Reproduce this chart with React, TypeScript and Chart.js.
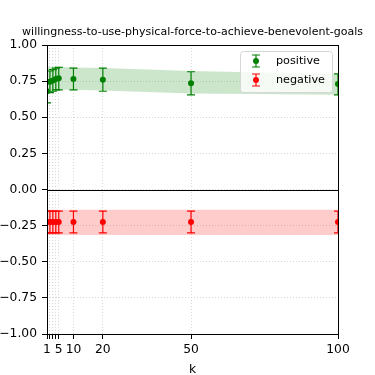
import React, { useEffect, useRef } from "react";
import { Chart, registerables } from "chart.js";

Chart.register(...registerables);

const titleText = "willingness-to-use-physical-force-to-achieve-benevolent-goals";
const kValues = [1, 2, 3, 4, 5, 10, 20, 50, 100];
const xTickValues = [1, 2, 3, 4, 5, 10, 20, 50, 100];
const xTickLabels = ["1", "", "", "", "5", "10", "20", "50", "100"];

const posMean = [0.68, 0.745, 0.755, 0.765, 0.77, 0.765, 0.76, 0.735, 0.73];
const posErrLow = [0.6, 0.67, 0.68, 0.69, 0.69, 0.69, 0.68, 0.655, 0.655];
const posErrHigh = [0.76, 0.82, 0.83, 0.84, 0.845, 0.84, 0.84, 0.815, 0.8];
const posBandLow = [0.68, 0.685, 0.69, 0.69, 0.69, 0.69, 0.685, 0.665, 0.655];
const posBandHigh = [0.85, 0.85, 0.85, 0.85, 0.85, 0.845, 0.84, 0.82, 0.8];

const negMean = [-0.225, -0.225, -0.225, -0.225, -0.225, -0.225, -0.225, -0.225, -0.225];
const negErrLow = [-0.3, -0.3, -0.3, -0.3, -0.3, -0.3, -0.3, -0.3, -0.3];
const negErrHigh = [-0.15, -0.15, -0.15, -0.15, -0.15, -0.15, -0.15, -0.15, -0.15];
const negBandLow = [-0.315, -0.315, -0.315, -0.315, -0.315, -0.315, -0.315, -0.315, -0.315];
const negBandHigh = [-0.14, -0.14, -0.14, -0.14, -0.14, -0.14, -0.14, -0.14, -0.14];

const seriesNames = ["positive", "negative"];
const GREEN = "rgb(0,128,0)";
const RED = "rgb(255,0,0)";
const FONT = "DejaVu Sans";
const TICK_FS = 12.3;
const LEGEND_FS = 11.2;
const TITLE_FS = 11;

const pts = (ys: number[]) => kValues.map((x, i) => ({ x, y: ys[i] }));

export default function App() {
  const ref = useRef<HTMLCanvasElement>(null);
  useEffect(() => {
    document.body.style.margin = "0";
    const errorBars = {
      id: "errorBars",
      afterDatasetsDraw(chart: any) {
        const { ctx, chartArea, scales } = chart;
        const xs = scales.x, ys = scales.y;
        ctx.save();
        ctx.beginPath();
        ctx.rect(chartArea.left, chartArea.top, chartArea.right - chartArea.left, chartArea.bottom - chartArea.top);
        ctx.clip();
        const draw = (lo: number[], hi: number[], color: string) => {
          ctx.strokeStyle = color;
          ctx.lineWidth = 1.2;
          kValues.forEach((k, i) => {
            const px = xs.getPixelForValue(k);
            const y1 = ys.getPixelForValue(lo[i]);
            const y2 = ys.getPixelForValue(hi[i]);
            ctx.beginPath();
            ctx.moveTo(px, y1); ctx.lineTo(px, y2);
            ctx.moveTo(px - 4, y1); ctx.lineTo(px + 4, y1);
            ctx.moveTo(px - 4, y2); ctx.lineTo(px + 4, y2);
            ctx.stroke();
          });
        };
        draw(posErrLow, posErrHigh, GREEN);
        draw(negErrLow, negErrHigh, RED);
        ctx.restore();
      },
    };
    const frame = {
      id: "frame",
      beforeDatasetsDraw(chart: any) {
        const { ctx, chartArea, scales } = chart;
        const y0 = scales.y.getPixelForValue(0);
        ctx.save();
        ctx.strokeStyle = "#000";
        ctx.lineWidth = 1;
        ctx.beginPath();
        ctx.moveTo(chartArea.left, Math.round(y0) + 0.5);
        ctx.lineTo(chartArea.right, Math.round(y0) + 0.5);
        ctx.stroke();
        ctx.restore();
      },
      afterDraw(chart: any) {
        const { ctx, chartArea } = chart;
        ctx.save();
        ctx.strokeStyle = "#000";
        ctx.lineWidth = 1;
        ctx.strokeRect(Math.round(chartArea.left) + 0.5, Math.round(chartArea.top) + 0.5,
          Math.round(chartArea.right - chartArea.left), Math.round(chartArea.bottom - chartArea.top));
        const cxMid = (chartArea.left + chartArea.right) / 2;
        // title
        ctx.fillStyle = "#000";
        ctx.font = `${TITLE_FS}px "${FONT}"`;
        ctx.textAlign = "center";
        ctx.textBaseline = "middle";
        ctx.fillText(titleText, cxMid, 32);
        // x label
        ctx.font = `${TICK_FS}px "${FONT}"`;
        ctx.textBaseline = "alphabetic";
        ctx.fillText("k", cxMid, 373);
        // legend
        const lx = 240, ly = 51, lw = 92, lh = 41;
        ctx.beginPath();
        ctx.roundRect(lx + 0.5, ly + 0.5, lw, lh, 3);
        ctx.fillStyle = "rgba(255,255,255,0.8)";
        ctx.fill();
        ctx.strokeStyle = "#d6d6d6";
        ctx.stroke();
        const colors = [GREEN, RED];
        ctx.textBaseline = "middle";
        seriesNames.forEach((name, i) => {
          const cy = 61 + i * 19;
          const cx = 256;
          ctx.strokeStyle = colors[i];
          ctx.lineWidth = 1.2;
          ctx.beginPath();
          ctx.moveTo(cx, cy - 6); ctx.lineTo(cx, cy + 6);
          ctx.moveTo(cx - 4, cy - 6); ctx.lineTo(cx + 4, cy - 6);
          ctx.moveTo(cx - 4, cy + 6); ctx.lineTo(cx + 4, cy + 6);
          ctx.stroke();
          ctx.fillStyle = colors[i];
          ctx.beginPath();
          ctx.arc(cx, cy, 3, 0, Math.PI * 2);
          ctx.fill();
          ctx.fillStyle = "#000";
          ctx.textAlign = "left";
          ctx.font = `${LEGEND_FS}px "${FONT}"`;
          ctx.fillText(name, 276, cy);
        });
        ctx.restore();
      },
    };
    const bandDs = (ys: number[], fill: any, color: string) => ({
      type: "line" as const,
      data: pts(ys),
      borderWidth: 0,
      pointRadius: 0,
      fill,
      backgroundColor: color,
      borderColor: "transparent",
      tension: 0,
      order: 2,
    });
    const gridOpts = { color: "#cccccc", lineWidth: 0.8, tickLength: 5, tickColor: "#000", tickWidth: 1, tickBorderDash: [] } as any;
    const chart = new Chart(ref.current!, {
      type: "scatter",
      data: {
        datasets: [
          { label: seriesNames[0], data: pts(posMean), backgroundColor: GREEN, borderColor: GREEN, pointRadius: 3, borderWidth: 0, order: 0, clip: 0 } as any,
          { label: seriesNames[1], data: pts(negMean), backgroundColor: RED, borderColor: RED, pointRadius: 3, borderWidth: 0, order: 0, clip: 0 } as any,
          bandDs(posBandHigh, "+1", "rgba(0,128,0,0.2)"),
          bandDs(posBandLow, false, "rgba(0,128,0,0.2)"),
          bandDs(negBandHigh, "+1", "rgba(255,0,0,0.2)"),
          bandDs(negBandLow, false, "rgba(255,0,0,0.2)"),
        ],
      },
      options: {
        animation: false,
        responsive: false,
        layout: { padding: { top: 45, right: 37, left: 0, bottom: 0 } },
        plugins: { legend: { display: false }, tooltip: { enabled: false }, title: { display: false } },
        scales: {
          x: {
            type: "linear",
            min: 1,
            max: 100,
            afterBuildTicks: (s: any) => { s.ticks = xTickValues.map((v) => ({ value: v })); },
            afterFit: (s: any) => { s.height = 41; },
            ticks: {
              autoSkip: false,
              maxRotation: 0,
              padding: 3,
              color: "#000",
              font: { family: FONT, size: TICK_FS },
              callback: (v: any) => { const i = xTickValues.indexOf(Number(v)); return i >= 0 ? xTickLabels[i] : ""; },
            },
            grid: gridOpts,
            border: { display: false, dash: [1, 2] },
          },
          y: {
            min: -1,
            max: 1,
            afterFit: (s: any) => { s.width = 47; },
            ticks: {
              stepSize: 0.25,
              padding: 5,
              color: "#000",
              font: { family: FONT, size: TICK_FS },
              callback: (v: any) => { const n = Number(v); return (n < 0 ? "\u2212" : "") + Math.abs(n).toFixed(2); },
            },
            grid: gridOpts,
            border: { display: false, dash: [1, 2] },
          },
        },
      },
      plugins: [frame, errorBars],
    });
    return () => chart.destroy();
  }, []);
  return (
    <div style={{ width: 375, height: 375 }}>
      <canvas ref={ref} width={375} height={375} />
    </div>
  );
}
